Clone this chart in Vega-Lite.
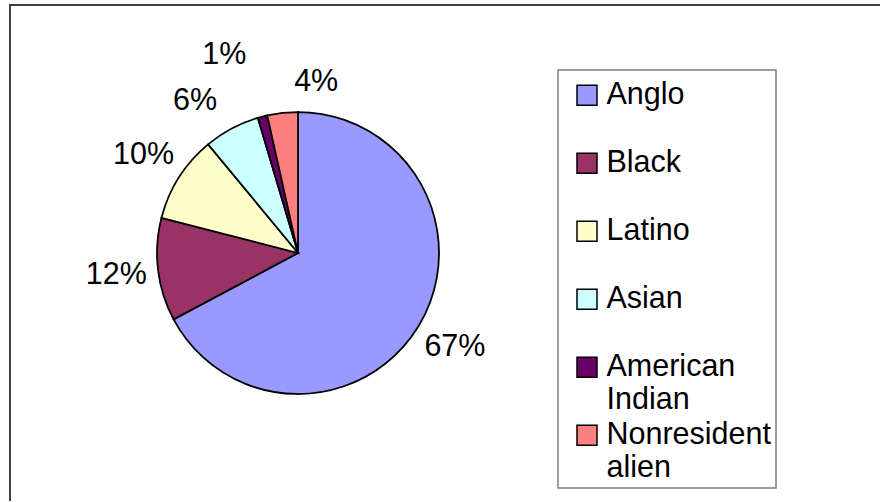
{
  "$schema": "https://vega.github.io/schema/vega-lite/v6.json",
  "padding": {"left": 9, "top": 4, "right": 0, "bottom": 0},
  "background": "white",
  "bounds": "flush",
  "spacing": 0,
  "data": {"values": [
    {"group": "Anglo", "share": 0.672, "rank": 1},
    {"group": "Black", "share": 0.118, "rank": 2},
    {"group": "Latino", "share": 0.100, "rank": 3},
    {"group": "Asian", "share": 0.064, "rank": 4},
    {"group": "American Indian", "share": 0.011, "rank": 5},
    {"group": "Nonresident alien", "share": 0.035, "rank": 6}
  ]},
  "hconcat": [
    {
      "width": 576,
      "height": 496,
      "view": {"stroke": "#404040", "strokeWidth": 2, "strokeDash": [576, 1072, 496]},
      "encoding": {
        "theta": {"field": "share", "type": "quantitative", "stack": true},
        "order": {"field": "rank", "type": "quantitative"}
      },
      "layer": [
        {
          "mark": {"type": "arc", "outerRadius": 141, "stroke": "black", "strokeWidth": 1.75},
          "encoding": {
            "color": {
              "field": "group",
              "type": "nominal",
              "scale": {
                "domain": ["Anglo", "Black", "Latino", "Asian", "American Indian", "Nonresident alien"],
                "range": ["#9999FF", "#993366", "#FFFFCC", "#CCFFFF", "#660066", "#FF8080"]
              },
              "legend": {
                "orient": "none",
                "legendX": 548,
                "legendY": 65,
                "direction": "vertical",
                "title": null,
                "symbolType": "M-0.3604,-0.6577H0.3604V0.0631H-0.3604Z",
                "symbolSize": 3080.25,
                "symbolOffset": -4.5,
                "symbolStrokeColor": "black",
                "symbolStrokeWidth": 1.5,
                "symbolOpacity": 1,
                "labelFont": "Liberation Sans",
                "labelFontSize": 30.5,
                "labelColor": "black",
                "labelBaseline": "alphabetic",
                "labelOffset": -9,
                "labelLimit": 400,
                "labelExpr": "split(replace(datum.label, ' ', '|'), '|')",
                "gridAlign": "all",
                "rowPadding": 0,
                "padding": 5,
                "strokeColor": "#7f7f7f"
              }
            }
          }
        },
        {
          "mark": {"type": "text", "radius": 183, "font": "Liberation Sans", "fontSize": 30.5, "fill": "black", "align": "center", "baseline": "middle"},
          "encoding": {
            "text": {"condition": {"test": "datum.rank > 3", "value": ""}, "field": "share", "type": "quantitative", "format": ".0%"}
          }
        },
        {
          "mark": {"type": "text", "radius": 172, "font": "Liberation Sans", "fontSize": 30.5, "fill": "black", "align": "right", "baseline": "middle"},
          "encoding": {
            "text": {"condition": {"test": "datum.rank != 4", "value": ""}, "field": "share", "type": "quantitative", "format": ".0%"}
          }
        },
        {
          "mark": {"type": "text", "radius": 205, "font": "Liberation Sans", "fontSize": 30.5, "fill": "black", "align": "right", "baseline": "middle"},
          "encoding": {
            "text": {"condition": {"test": "datum.rank != 5", "value": ""}, "field": "share", "type": "quantitative", "format": ".0%"}
          }
        },
        {
          "mark": {"type": "text", "radius": 172, "dx": 15, "font": "Liberation Sans", "fontSize": 30.5, "fill": "black", "align": "left", "baseline": "middle"},
          "encoding": {
            "text": {"condition": {"test": "datum.rank != 6", "value": ""}, "field": "share", "type": "quantitative", "format": ".0%"}
          }
        }
      ]
    },
    {
      "width": 294,
      "height": 496,
      "view": {"stroke": "#404040", "strokeWidth": 2, "strokeDash": [294, 3000]},
      "mark": {"type": "text", "text": ""},
      "encoding": {}
    }
  ],
  "config": {
    "legend": {"strokeWidth": 1.5},
    "style": {"guide-label": {"lineHeight": 33}}
  }
}
